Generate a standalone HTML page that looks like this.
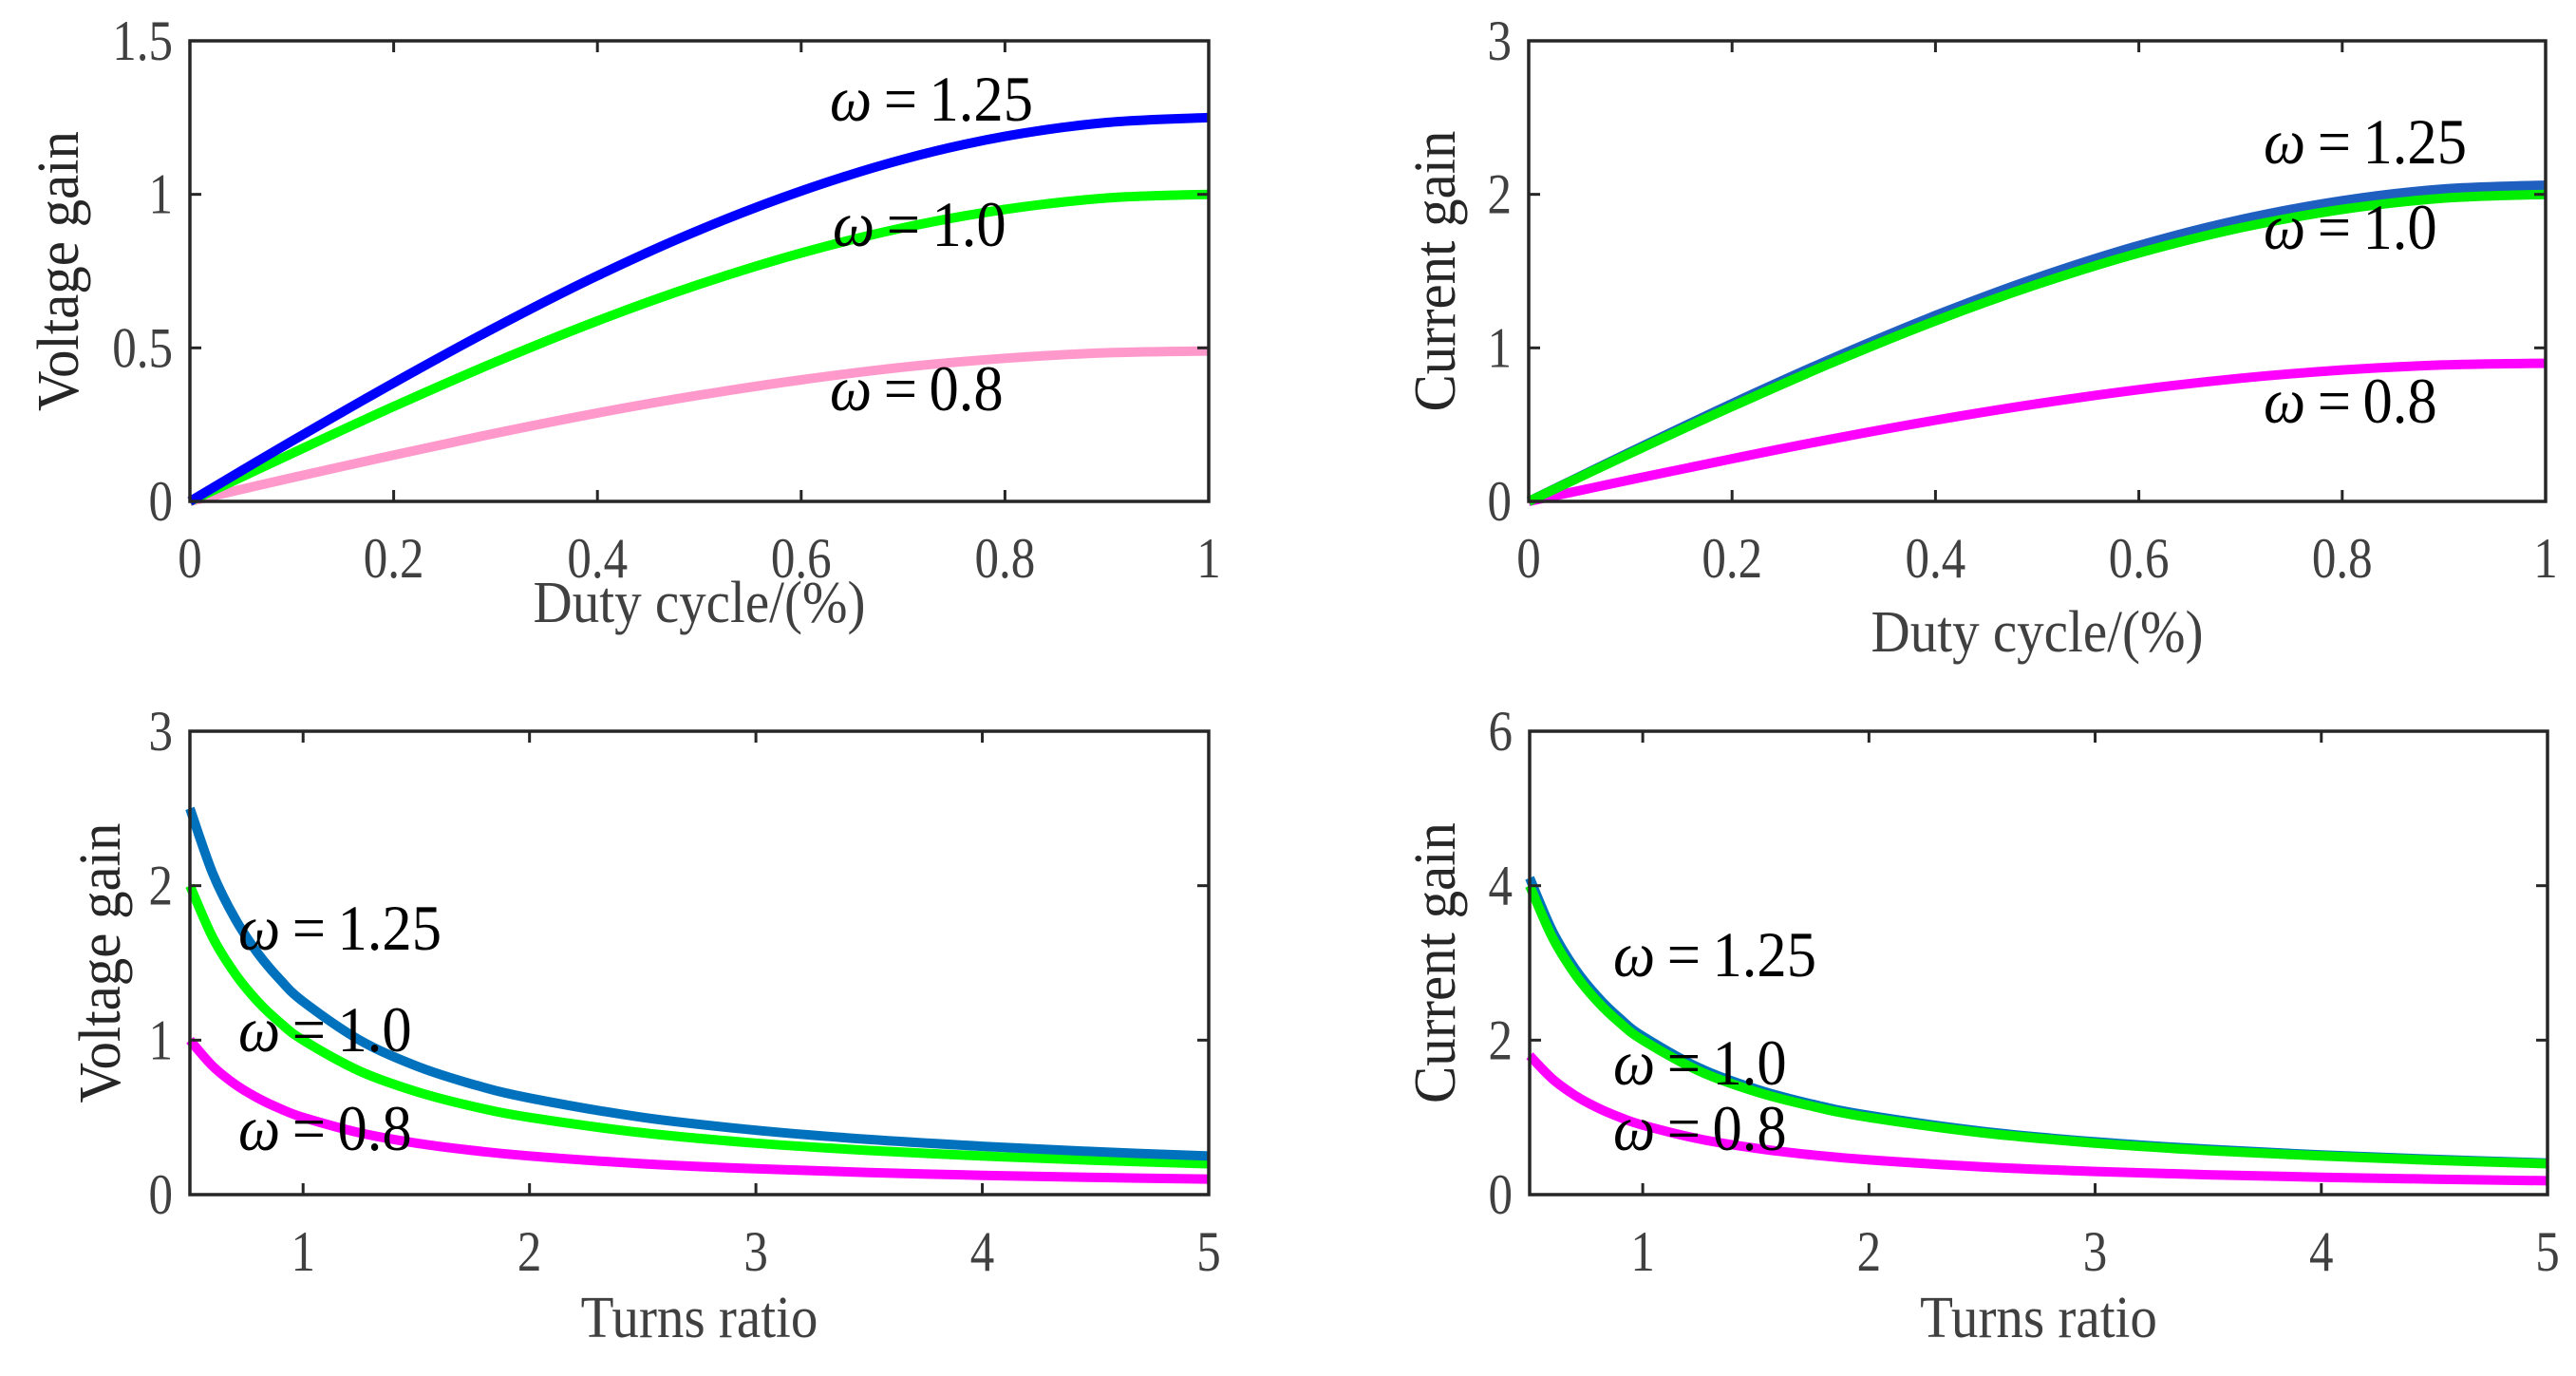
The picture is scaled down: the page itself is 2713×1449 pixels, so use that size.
<!DOCTYPE html>
<html><head><meta charset="utf-8"><style>
html,body{margin:0;padding:0;background:#fff}
svg{display:block}
text{font-family:"Liberation Serif",serif}
</style></head><body>
<svg id="c" width="2713" height="1449" viewBox="0 0 2713 1449"></svg>
<script>
const dutyX=[0,0.1,0.2,0.3,0.4,0.5,0.6,0.7,0.8,0.9,1.0];
const tlBlue=[0,0.196,0.386,0.567,0.735,0.884,1.011,1.114,1.189,1.234,1.25];
const tlGreen=[0,0.156,0.309,0.454,0.588,0.707,0.809,0.891,0.951,0.988,1.0];
const tlPink=[0,0.077,0.151,0.222,0.288,0.346,0.396,0.437,0.466,0.484,0.49];
const trBlue=[0,0.322,0.637,0.935,1.211,1.457,1.667,1.835,1.959,2.035,2.06];
const trGreen=[0,0.313,0.618,0.908,1.176,1.414,1.618,1.782,1.902,1.975,2.0];
const trMag=[0,0.141,0.278,0.409,0.529,0.636,0.728,0.802,0.856,0.889,0.9];
const turnsX=[0.5,0.6,0.7,0.8,0.9,1.0,1.25,1.5,1.75,2,2.5,3,3.5,4,4.5,5];
const blBlue=[2.5,2.083,1.786,1.563,1.389,1.25,1.0,0.833,0.714,0.625,0.5,0.417,0.357,0.313,0.278,0.25];
const blGreen=[2.0,1.667,1.429,1.25,1.111,1.0,0.8,0.667,0.571,0.5,0.4,0.333,0.286,0.25,0.222,0.2];
const blMag=[1.0,0.833,0.714,0.625,0.556,0.5,0.4,0.333,0.286,0.25,0.2,0.167,0.143,0.125,0.111,0.1];
const brBlue=[4.1,3.417,2.929,2.563,2.278,2.05,1.64,1.367,1.171,1.025,0.82,0.683,0.586,0.513,0.456,0.41];
const brGreen=[4.0,3.333,2.857,2.5,2.222,2.0,1.6,1.333,1.143,1.0,0.8,0.667,0.571,0.5,0.444,0.4];
const brMag=[1.8,1.5,1.286,1.125,1.0,0.9,0.72,0.6,0.514,0.45,0.36,0.3,0.257,0.225,0.2,0.18];
const tlYTicks=[0,0.5,1,1.5],tlYLabels=["0","0.5","1","1.5"];
const dutyTicks=[0,0.2,0.4,0.6,0.8,1],dutyLabels=["0","0.2","0.4","0.6","0.8","1"];
const trYTicks=[0,1,2,3],trYLabels=["0","1","2","3"];
const blYTicks=[0,1,2,3],blYLabels=["0","1","2","3"];
const brYTicks=[0,2,4,6],brYLabels=["0","2","4","6"];
const turnsTicks=[1,2,3,4,5],turnsLabels=["1","2","3","4","5"];

const svg=document.getElementById('c');
const NS='http://www.w3.org/2000/svg';
function mk(tag,attrs,parent){const e=document.createElementNS(NS,tag);for(const k in attrs)e.setAttribute(k,attrs[k]);(parent||svg).appendChild(e);return e;}
function smooth(pts){
  let d='M'+pts[0][0].toFixed(1)+' '+pts[0][1].toFixed(1);
  for(let i=0;i<pts.length-1;i++){
    const p0=pts[Math.max(i-1,0)],p1=pts[i],p2=pts[i+1],p3=pts[Math.min(i+2,pts.length-1)];
    const c1=[p1[0]+(p2[0]-p0[0])/6,p1[1]+(p2[1]-p0[1])/6];
    const c2=[p2[0]-(p3[0]-p1[0])/6,p2[1]-(p3[1]-p1[1])/6];
    d+=` C${c1[0].toFixed(1)} ${c1[1].toFixed(1)} ${c2[0].toFixed(1)} ${c2[1].toFixed(1)} ${p2[0].toFixed(1)} ${p2[1].toFixed(1)}`;
  }
  return d;
}
function ctext(g,x,y,str,size,anchor,fill,sx){
  const t=mk('text',{x:0,y:0,'font-size':size,fill:fill,'text-anchor':anchor,transform:`translate(${x},${y}) scale(${sx},1)`},g);
  t.textContent=str;return t;
}

function panel(p){
  const g=mk('g',{});
  
  
  const sx=v=>p.x0+(v-p.xmin)/(p.xmax-p.xmin)*(p.x1-p.x0);
  const sy=v=>p.y1-(v-p.ymin)/(p.ymax-p.ymin)*(p.y1-p.y0);
  p.series.forEach(s=>{
    const pts=p.xs.map((x,i)=>[sx(x),sy(s.v[i])]);
    const path=mk('path',{d:smooth(pts),fill:'none',stroke:s.c,'stroke-width':10,'stroke-linejoin':'round'},g);
    
    
  });
  const box=mk('rect',{x:p.x0,y:p.y0,width:p.x1-p.x0,height:p.y1-p.y0,fill:'none',stroke:'#262626','stroke-width':3.5},g);
  
  
  p.xt.forEach((t,i)=>{
    const x=sx(t);
    mk('line',{x1:x,y1:p.y1,x2:x,y2:p.y1-12,stroke:'#262626','stroke-width':3},g);
    mk('line',{x1:x,y1:p.y0,x2:x,y2:p.y0+12,stroke:'#262626','stroke-width':3},g);
    const tx=ctext(g,x,p.y1+80,p.xl[i],60,'middle','#404040',0.85);
    
    
  });
  p.yt.forEach((t,i)=>{
    const y=sy(t);
    mk('line',{x1:p.x0,y1:y,x2:p.x0+12,y2:y,stroke:'#262626','stroke-width':3},g);
    mk('line',{x1:p.x1,y1:y,x2:p.x1-12,y2:y,stroke:'#262626','stroke-width':3},g);
    const ty=ctext(g,p.x0-18,y+20,p.yl[i],60,'end','#404040',0.85);
    
    
  });
  const xt=ctext(g,(p.x0+p.x1)/2,p.xty,p.xtitle,62,'middle','#404040',0.92);
  
  
  const yt=mk('text',{x:0,y:0,'font-size':62,fill:'#262626','text-anchor':'middle',transform:`translate(${p.ytx},${(p.y0+p.y1)/2}) rotate(-90) scale(0.95,1)`},g);
  yt.textContent=p.ytitle;
  
  
  p.ann.forEach(a=>{
    const t=mk('text',{x:0,y:0,'font-size':68,fill:'#000',transform:`translate(${a[0]},${a[1]}) scale(0.92,1)`},g);
    t.innerHTML='<tspan font-style="italic">ω</tspan>\u2009=\u2009'+a[2];
    
    
  });
}

panel({name:'voltage-vs-duty',x0:200,x1:1273,y0:43,y1:528,xmin:0,xmax:1,ymin:0,ymax:1.5,xs:dutyX,
 series:[{v:tlPink,c:'#ff99cc',n:'line-omega-0.8'},{v:tlGreen,c:'#00ff00',n:'line-omega-1.0'},{v:tlBlue,c:'#0000ff',n:'line-omega-1.25'}],
 xt:dutyTicks,xl:dutyLabels,yt:tlYTicks,yl:tlYLabels,xtitle:'Duty cycle/(%)',xty:655,ytitle:'Voltage gain',ytx:82,
 ann:[[874,127,'1.25'],[877,259,'1.0'],[874,432,'0.8']]});
panel({name:'current-vs-duty',x0:1610,x1:2681,y0:43,y1:528,xmin:0,xmax:1,ymin:0,ymax:3,xs:dutyX,
 series:[{v:trMag,c:'#ff00ff',n:'line-omega-0.8'},{v:trBlue,c:'#1f5fbf',n:'line-omega-1.25'},{v:trGreen,c:'#00ee00',n:'line-omega-1.0'}],
 xt:dutyTicks,xl:dutyLabels,yt:trYTicks,yl:trYLabels,xtitle:'Duty cycle/(%)',xty:686,ytitle:'Current gain',ytx:1532,
 ann:[[2384,172,'1.25'],[2384,262,'1.0'],[2384,445,'0.8']]});
panel({name:'voltage-vs-turns',x0:200,x1:1273,y0:770,y1:1258,xmin:0.5,xmax:5,ymin:0,ymax:3,xs:turnsX,
 series:[{v:blMag,c:'#ff00ff',n:'line-omega-0.8'},{v:blGreen,c:'#00ff00',n:'line-omega-1.0'},{v:blBlue,c:'#0072bd',n:'line-omega-1.25'}],
 xt:turnsTicks,xl:turnsLabels,yt:blYTicks,yl:blYLabels,xtitle:'Turns ratio',xty:1408,ytitle:'Voltage gain',ytx:126,
 ann:[[251,1000,'1.25'],[251,1107,'1.0'],[251,1211,'0.8']]});
panel({name:'current-vs-turns',x0:1611,x1:2683,y0:770,y1:1258,xmin:0.5,xmax:5,ymin:0,ymax:6,xs:turnsX,
 series:[{v:brMag,c:'#ff00ff',n:'line-omega-0.8'},{v:brBlue,c:'#0072bd',n:'line-omega-1.25'},{v:brGreen,c:'#00ee00',n:'line-omega-1.0'}],
 xt:turnsTicks,xl:turnsLabels,yt:brYTicks,yl:brYLabels,xtitle:'Turns ratio',xty:1408,ytitle:'Current gain',ytx:1532,
 ann:[[1699,1028,'1.25'],[1699,1142,'1.0'],[1699,1211,'0.8']]});
</script>
</body></html>
